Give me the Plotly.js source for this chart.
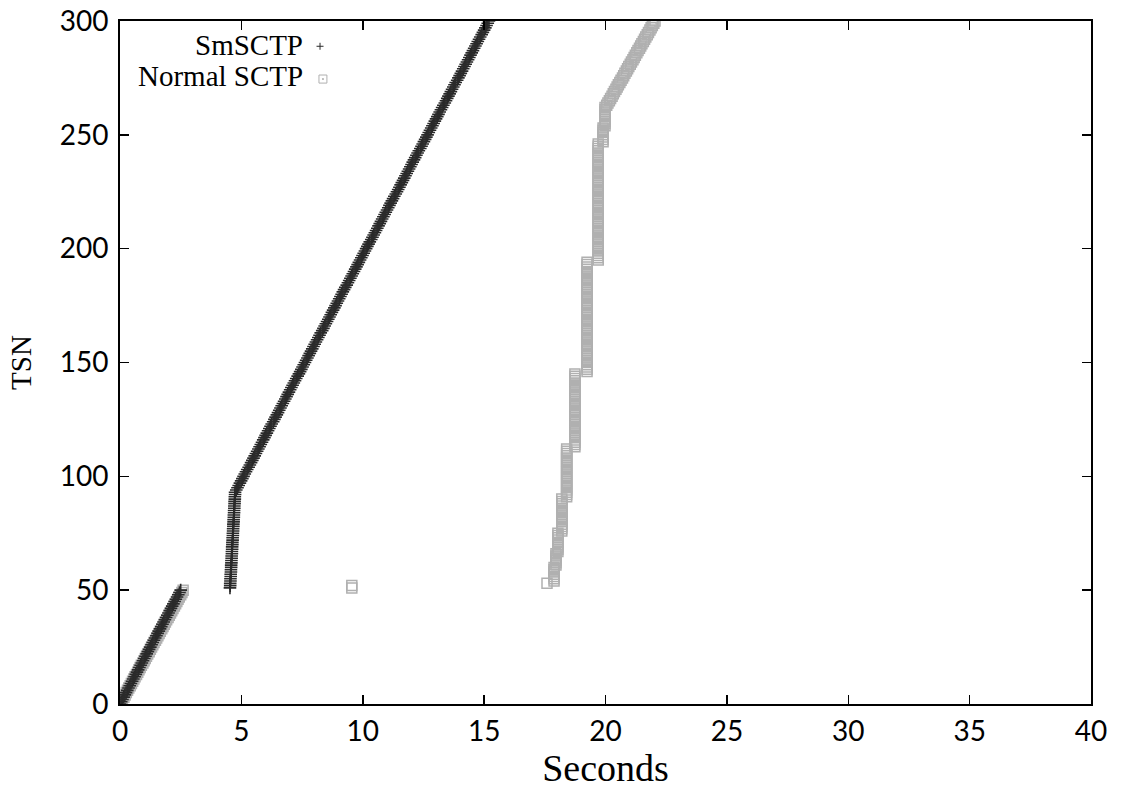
<!DOCTYPE html>
<html>
<head>
<meta charset="utf-8">
<script src="https://cdn.plot.ly/plotly-3.0.1.min.js"></script>
<style>html,body{margin:0;padding:0;background:#fff;}#chart{width:1121px;height:789px;}</style>
</head>
<body>
<div id="chart"></div>
<script>
// Time (seconds) at which each TSN was seen; array index = TSN
const smsctpTime = [
  0.00,0.05,0.10,0.15,0.20,0.25,0.30,0.35,0.40,0.45,
  0.50,0.55,0.60,0.65,0.70,0.75,0.80,0.85,0.90,0.95,
  1.00,1.05,1.10,1.15,1.20,1.25,1.30,1.35,1.40,1.45,
  1.50,1.55,1.60,1.65,1.70,1.75,1.80,1.85,1.90,1.95,
  2.00,2.05,2.10,2.15,2.20,2.25,2.30,2.35,2.40,2.45,
  2.50,
  4.53,4.54,4.54,4.55,4.55,4.56,4.56,4.57,4.57,4.58,
  4.58,4.59,4.59,4.60,4.60,4.61,4.61,4.62,4.62,4.63,
  4.63,4.64,4.64,4.65,4.65,4.66,4.66,4.67,4.67,4.68,
  4.68,4.69,4.69,4.70,4.70,4.71,4.71,4.72,4.72,4.73,
  4.73,4.74,4.74,
  4.79,4.84,4.89,4.94,4.99,5.04,5.09,5.14,5.19,5.24,
  5.30,5.35,5.40,5.45,5.50,5.55,5.60,5.65,5.70,5.75,
  5.80,5.85,5.90,5.95,6.00,6.05,6.10,6.15,6.20,6.25,
  6.31,6.36,6.41,6.46,6.51,6.56,6.61,6.66,6.71,6.76,
  6.81,6.86,6.91,6.96,7.01,7.06,7.11,7.16,7.21,7.26,
  7.32,7.37,7.42,7.47,7.52,7.57,7.62,7.67,7.72,7.77,
  7.82,7.87,7.92,7.97,8.02,8.07,8.12,8.17,8.22,8.27,
  8.33,8.38,8.43,8.48,8.53,8.58,8.63,8.68,8.73,8.78,
  8.83,8.88,8.93,8.98,9.03,9.08,9.13,9.18,9.23,9.28,
  9.34,9.39,9.44,9.49,9.54,9.59,9.64,9.69,9.74,9.79,
  9.84,9.89,9.94,9.99,10.04,10.09,10.14,10.19,10.24,10.29,
  10.35,10.40,10.45,10.50,10.55,10.60,10.65,10.70,10.75,10.80,
  10.85,10.90,10.95,11.00,11.05,11.10,11.15,11.20,11.25,11.30,
  11.36,11.41,11.46,11.51,11.56,11.61,11.66,11.71,11.76,11.81,
  11.86,11.91,11.96,12.01,12.06,12.11,12.16,12.21,12.26,12.31,
  12.37,12.42,12.47,12.52,12.57,12.62,12.67,12.72,12.77,12.82,
  12.87,12.92,12.97,13.02,13.07,13.12,13.17,13.22,13.27,13.32,
  13.38,13.43,13.48,13.53,13.58,13.63,13.68,13.73,13.78,13.83,
  13.89,13.94,13.99,14.04,14.09,14.14,14.19,14.24,14.29,14.34,
  14.39,14.44,14.49,14.54,14.59,14.64,14.69,14.74,14.79,14.84,
  14.90,14.95,15.00,15.05,15.10,15.15,15.20
];

const normalTime = [
  0.00,0.05,0.10,0.16,0.21,0.26,0.31,0.36,0.42,0.47,
  0.52,0.57,0.62,0.68,0.73,0.78,0.83,0.88,0.94,0.99,
  1.04,1.09,1.14,1.20,1.25,1.30,1.35,1.40,1.46,1.51,
  1.56,1.61,1.66,1.72,1.77,1.82,1.87,1.92,1.98,2.03,
  2.08,2.13,2.18,2.24,2.29,2.34,2.39,2.44,2.50,2.55,
  2.60,
  9.55,9.55,
  17.59,
  17.88,17.88,17.88,17.88,17.88,17.88,17.88,
  17.96,17.96,17.96,17.96,17.96,17.96,
  18.04,18.04,18.04,18.04,18.04,18.04,18.04,18.04,18.04,
  18.20,18.20,18.20,18.20,18.20,18.20,18.20,18.20,18.20,18.20,18.20,18.20,18.20,18.20,18.20,
  18.40,18.40,18.40,18.40,18.40,18.40,18.40,18.40,18.40,18.40,18.40,
  18.40,18.40,18.40,18.40,18.40,18.40,18.40,18.40,18.40,18.40,18.40,
  18.74,18.74,18.74,18.74,18.74,18.74,18.74,18.74,18.74,18.74,18.74,
  18.74,18.74,18.74,18.74,18.74,18.74,18.74,18.74,18.74,18.74,18.74,
  18.74,18.74,18.74,18.74,18.74,18.74,18.74,18.74,18.74,18.74,18.74,
  19.24,19.24,19.24,19.24,19.24,19.24,19.24,19.24,19.24,19.24,
  19.24,19.24,19.24,19.24,19.24,19.24,19.24,19.24,19.24,19.24,
  19.24,19.24,19.24,19.24,19.24,19.24,19.24,19.24,19.24,19.24,
  19.24,19.24,19.24,19.24,19.24,19.24,19.24,19.24,19.24,19.24,
  19.24,19.24,19.24,19.24,19.24,19.24,19.24,19.24,19.24,
  19.70,19.70,19.70,19.70,19.70,19.70,19.70,19.70,19.70,19.70,
  19.70,19.70,19.70,19.70,19.70,19.70,19.70,19.70,19.70,19.70,
  19.70,19.70,19.70,19.70,19.70,19.70,19.70,19.70,19.70,19.70,
  19.70,19.70,19.70,19.70,19.70,19.70,19.70,19.70,19.70,19.70,
  19.70,19.70,19.70,19.70,19.70,19.70,19.70,19.70,19.70,19.70,
  19.70,19.70,
  19.90,19.90,19.90,19.90,19.90,19.90,19.90,
  19.98,19.98,19.98,19.98,19.98,19.98,19.98,19.98,19.98,
  20.05,20.10,20.16,20.21,20.27,20.32,20.37,20.43,20.48,20.53,
  20.59,20.64,20.70,20.75,20.80,20.86,20.91,20.96,21.02,21.07,
  21.13,21.18,21.23,21.29,21.34,21.40,21.45,21.50,21.56,21.61,
  21.66,21.72,21.77,21.83,21.88,21.93,21.99,22.04
];

const seriesNames = ['SmSCTP', 'Normal SCTP'];
const xTicks = [0,5,10,15,20,25,30,35,40];
const yTicks = [0,50,100,150,200,250,300];

const smsctpTsn = smsctpTime.map((_, i) => i);
const normalTsn = normalTime.map((_, i) => i);

const grey = '#b0b0b0';
const dark = '#2a2a2a';

const traces = [
  {
    x: normalTime, y: normalTsn, type: 'scatter', mode: 'markers', name: seriesNames[1],
    showlegend: false,
    marker: {symbol: 'square-open', size: 10, color: grey, line: {width: 1.5, color: grey}}
  },
  {
    x: smsctpTime, y: smsctpTsn, type: 'scatter', mode: 'markers', name: seriesNames[0],
    showlegend: false,
    marker: {symbol: 'cross-thin-open', size: 9, color: dark, line: {width: 1.6, color: dark}}
  }
];

const tickFont = {family: 'Lato, "Noto Sans", sans-serif', size: 28, color: '#000'};
const serif = '"Liberation Serif", "DejaVu Serif", serif';

const layout = {
  width: 1121, height: 789,
  margin: {l: 120, r: 30, t: 21, b: 85},
  paper_bgcolor: '#fff', plot_bgcolor: '#fff',
  showlegend: false,
  xaxis: {
    range: [0, 40], tickvals: xTicks, ticktext: xTicks.map(String),
    ticks: 'inside', ticklen: 9, tickwidth: 1.5, tickcolor: '#000',
    showline: true, linewidth: 2, linecolor: '#000', mirror: 'ticks',
    showgrid: false, zeroline: false, tickfont: tickFont, ticklabelstandoff: 1,
    title: {text: 'Seconds', font: {family: serif, size: 38, color: '#000'}, standoff: 2}
  },
  yaxis: {
    range: [0, 300], tickvals: yTicks, ticktext: yTicks.map(String),
    ticks: 'inside', ticklen: 9, tickwidth: 1.5, tickcolor: '#000',
    showline: true, linewidth: 2, linecolor: '#000', mirror: 'ticks',
    showgrid: false, zeroline: false, tickfont: tickFont, ticklabelstandoff: 4,
    title: {text: 'TSN', font: {family: serif, size: 29, color: '#000'}, standoff: 20}
  },
  annotations: [
    {xref: 'paper', yref: 'paper', x: 0.1905, y: 0.965, xanchor: 'right', yanchor: 'middle',
     text: seriesNames[0], showarrow: false, font: {family: serif, size: 29, color: '#000'}},
    {xref: 'paper', yref: 'paper', x: 0.1905, y: 0.920, xanchor: 'right', yanchor: 'middle',
     text: seriesNames[1], showarrow: false, font: {family: serif, size: 29, color: '#000'}}
  ],
  shapes: [
    {type: 'line', xref: 'paper', yref: 'paper', x0: 0.2024, x1: 0.2096, y0: 0.963, y1: 0.963, line: {color: dark, width: 1}},
    {type: 'line', xref: 'paper', yref: 'paper', x0: 0.2060, x1: 0.2060, y0: 0.9579, y1: 0.9681, line: {color: dark, width: 1}},
    {type: 'rect', xref: 'paper', yref: 'paper', x0: 0.2049, x1: 0.2131, y0: 0.9091, y1: 0.9209, line: {color: grey, width: 1}},
    {type: 'rect', xref: 'paper', yref: 'paper', x0: 0.2085, x1: 0.2095, y0: 0.9143, y1: 0.9157, line: {color: grey, width: 1}, fillcolor: grey}
  ]
};

Plotly.newPlot('chart', traces, layout, {displayModeBar: false, staticPlot: true});
</script>
</body>
</html>
